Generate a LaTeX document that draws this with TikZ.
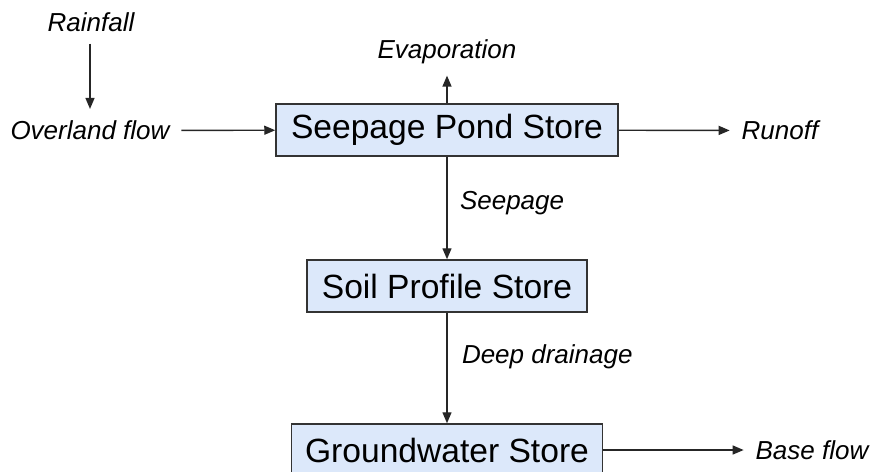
\documentclass[tikz,border=0pt]{standalone}
\usepackage{fontspec}
\setmainfont{Liberation Sans}
\usepackage{xcolor}
\usepackage{tikz}
\usetikzlibrary{arrows.meta, positioning}
\definecolor{storeblue}{RGB}{220,232,250}

\begin{document}
\begin{tikzpicture}[x=0.5pt, y=-0.5pt,
  store/.style={draw=black!80, line width=0.75pt, fill=storeblue, inner sep=0pt,
    minimum height=26pt, font=\fontsize{16.8}{20}\selectfont},
  flux/.style={font=\fontsize{13}{15}\selectfont\itshape, text=black, inner sep=0pt, outer sep=6pt},
  flow/.style={-{Triangle[length=5.5pt,width=4.5pt]}, line width=0.7pt, black!85}]
\useasboundingbox (0,0) rectangle (872,471);
% stores
\node[store, minimum width=171pt] (pond) at (447,130) {Seepage Pond Store};
\node[store, minimum width=140pt] (soil) at (447,286) {Soil Profile Store};
\node[store, minimum width=155.5pt] (ground) at (447,450) {Groundwater Store};
% inflows and outflows
\node[flux] (rain) at (91,22) {Rainfall};
\node[flux] (over) at (90,130.5) {Overland flow};
\node[flux] (evap) at (447,51.5) {Evaporation};
\node[flux] (runoff) at (780,130.5) {Runoff};
\node[flux] (base) at (812,450) {Base flow};
\draw[flow] (rain.south -| over) -- (over);
\draw[flow] (over) -- (pond);
\draw[flow] (pond) -- (evap);
\draw[flow] (pond) -- (runoff);
\draw[flow] (pond) -- (soil) node[pos=0.45, right=6.5pt, flux, outer sep=0pt] {Seepage};
\draw[flow] (soil) -- (ground) node[pos=0.4, right=7.5pt, flux, outer sep=0pt] {Deep drainage};
\draw[flow] (ground) -- (base);
\end{tikzpicture}
\end{document}
